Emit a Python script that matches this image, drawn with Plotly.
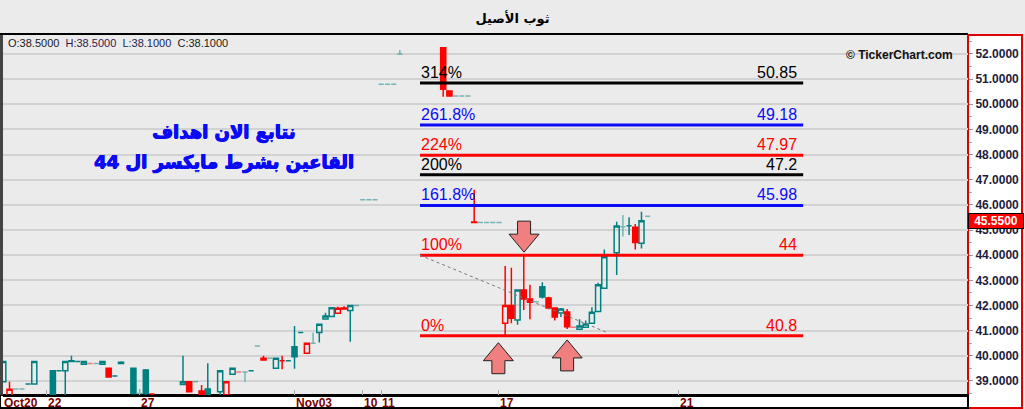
import plotly.graph_objects as go

# ---------------- data ----------------
title_text = "ثوب الأصيل"
ohlc_info = ["38.5000", "38.5000", "38.1000", "38.1000"]
last_price = 45.55

# one entry per time slot (None = no candle shown in that slot)
opens = [38.97, 38.40, 38.68, 38.68, 38.88, 38.88, None, None, 39.40, 39.40,
         39.40, 39.80, 39.77, 39.66, 39.69, 39.69, 39.66, 39.50, 39.20, 39.74,
         None, 39.50, 38.50, 39.43, 38.48, None, None, None, None, 38.86,
         38.97, 38.97, 38.60, 38.68, None, 38.57, 38.44, 39.27, 39.35, 39.35,
         39.40, 40.39, 39.90, 39.90, 39.50, 39.80, 39.80, 40.36, 40.93, 40.10,
         40.50, 40.93, 41.46, 41.56, 41.69, 41.90, 41.80, 42.00, 46.20, 46.20,
         46.20, 50.80, 50.80, 50.80, 52.00, None, None, None, None, None,
         None, 52.25, 50.53, 50.33, 50.33, 50.33, 45.32, 45.30, 45.30, 45.30,
         45.30, 41.29, 42.00, 41.42, 42.62, 42.26, 42.15, 42.74, 42.30, 41.90,
         41.70, 41.74, 41.13, 41.05, 41.13, 41.29, 41.76, 42.68, None, 44.10,
         45.13, 45.17, 45.11, 44.47, 45.55]
highs = [39.80, 38.97, 38.68, 38.68, 38.88, 39.77, None, None, 39.40, 39.40,
         39.77, 40.00, 39.77, 39.77, 39.69, 39.69, 39.77, 39.52, 39.20, 39.78,
         None, 39.50, 38.68, 39.47, 38.48, None, None, None, None, 40.00,
         38.97, 38.97, 38.84, 39.70, None, 39.40, 38.97, 39.50, 39.35, 39.35,
         39.40, 40.39, 40.00, 39.90, 39.90, 40.00, 39.80, 41.18, 40.93, 40.50,
         40.93, 41.25, 41.71, 41.91, 41.95, 41.97, 42.00, 42.00, 46.20, 46.20,
         46.20, 50.80, 50.80, 50.80, 52.16, None, None, None, None, None,
         None, 52.25, 50.53, 50.33, 50.33, 50.33, 46.60, 45.30, 45.30, 45.30,
         45.30, 43.57, 43.50, 42.62, 44.00, 42.82, 42.15, 42.92, 42.35, 41.92,
         41.90, 41.86, 41.13, 41.45, 41.40, 41.93, 42.90, 44.23, None, 45.33,
         45.60, 45.51, 45.24, 45.73, 45.55]
lows = [38.97, 38.40, 38.68, 38.68, 38.88, 38.88, None, None, 38.30, 39.40,
        38.30, 39.77, 39.77, 39.66, 39.69, 39.69, 39.66, 39.14, 39.20, 39.69,
        None, 38.50, 38.44, 38.45, 38.48, None, None, None, None, 38.86,
        38.57, 38.97, 38.40, 38.40, None, 38.44, 38.44, 39.27, 39.35, 38.97,
        39.40, 40.39, 39.83, 39.90, 39.50, 39.46, 39.80, 39.48, 40.93, 40.10,
        40.50, 40.53, 41.46, 41.56, 41.69, 41.86, 40.56, 42.00, 46.20, 46.20,
        46.20, 50.80, 50.80, 50.80, 52.00, None, None, None, None, None,
        None, 50.30, 50.33, 50.33, 50.33, 50.33, 45.30, 45.30, 45.30, 45.30,
        45.30, 40.79, 41.29, 41.23, 41.82, 41.45, 42.15, 42.28, 41.85, 41.40,
        41.54, 41.06, 41.13, 41.05, 41.13, 41.29, 41.76, 42.68, None, 43.21,
        44.74, 44.80, 44.23, 44.27, 45.55]
closes = [39.77, 38.67, 38.68, 38.68, 38.88, 39.77, None, None, 38.30, 39.40,
          39.77, 39.77, 39.77, 39.77, 39.69, 39.69, 39.77, 39.16, 39.20, 39.69,
          None, 38.50, 38.50, 38.50, 38.48, None, None, None, None, 38.97,
          38.57, 38.97, 38.40, 38.40, None, 39.40, 38.97, 39.50, 39.35, 39.35,
          39.40, 40.39, 39.83, 39.90, 39.90, 39.80, 39.80, 39.96, 40.93, 40.50,
          40.50, 41.25, 41.58, 41.91, 41.89, 41.86, 42.00, 42.00, 46.20, 46.20,
          46.20, 50.80, 50.80, 50.80, 52.00, None, None, None, None, None,
          None, 50.60, 50.33, 50.33, 50.33, 50.33, 45.30, 45.30, 45.30, 45.30,
          45.30, 42.00, 41.49, 42.62, 42.26, 42.13, 42.15, 42.34, 41.90, 41.54,
          41.86, 41.15, 41.13, 41.18, 41.26, 41.73, 42.82, 43.94, None, 45.16,
          45.13, 45.17, 44.50, 45.37, 45.55]
# move versus previous close
direction = ["up", "down", "up", "up", "up", "up", None, None, "up", "up",
             "up", "up", "up", "up", "down", "up", "up", "down", "up", "up",
             None, "up", "up", "up", "down", None, None, None, None, "up",
             "down", "up", "down", "up", None, "up", "down", "up", "down", "up",
             "up", "up", "down", "up", "up", "down", "up", "up", "up", "down",
             "up", "up", "up", "up", "down", "down", "up", "up", "up", "up",
             "up", "up", "up", "up", "up", None, None, None, None, None,
             None, "down", "down", "up", "up", "up", "down", "up", "up", "up",
             "up", "down", "down", "up", "down", "down", "up", "up", "down", "down",
             "up", "down", "down", "up", "up", "up", "up", "up", None, "up",
             "up", "up", "down", "up", "up"]
# thin-volume candles (drawn faded)
thin_volume = [0, 0, 1, 1, 0, 0, 0, 0, 0, 0,
               0, 0, 0, 0, 1, 1, 0, 0, 0, 0,
               0, 0, 1, 0, 0, 0, 0, 0, 0, 0,
               0, 1, 0, 0, 0, 0, 0, 0, 1, 1,
               0, 1, 0, 1, 0, 0, 0, 0, 0, 0,
               1, 0, 0, 0, 0, 0, 0, 1, 1, 1,
               1, 1, 1, 1, 1, 0, 0, 0, 0, 0,
               0, 0, 0, 1, 1, 1, 0, 1, 1, 1,
               1, 0, 0, 0, 0, 0, 1, 0, 0, 0,
               0, 0, 1, 0, 0, 0, 0, 0, 0, 0,
               1, 0, 0, 0, 1]

tick_slots = [0, 7, 22, 47, 58, 61, 80, 109]
tick_labels = ["Oct20", "22", "27", "Nov03", "10", "11", "17", "21"]

fib_levels = ["0%", "100%", "161.8%", "200%", "224%", "261.8%", "314%"]
fib_prices = [40.8, 44.0, 45.98, 47.2, 47.97, 49.18, 50.85]
fib_price_labels = ["40.8", "44", "45.98", "47.2", "47.97", "49.18", "50.85"]
fib_from_slot, fib_to_slot = 67.25, 129.1

trend_slots = [67.25, 97.6]
trend_prices = [44.0, 40.91]

arrow_down_tips = [(84.05, 44.12)]
arrow_up_tips = [(79.9, 40.52), (91.0, 40.63)]

note_lines = ["نتابع الان اهداف", "القاعين بشرط مايكسر ال 44"]

# ---------------- style / layout constants ----------------
W, H = 1025, 409
ML, MR, MT, MB = 3, 57, 35, 14
PW, PH = W - ML - MR, H - MT - MB
X_RANGE = [-0.05, 155.7]
Y_RANGE = [38.44, 52.755]
SX = (X_RANGE[1] - X_RANGE[0]) / PW   # slots per px
SY = (Y_RANGE[1] - Y_RANGE[0]) / PH   # price per px

TEAL = "#008080"
TEAL_LIGHT = "rgba(0,128,128,0.5)"
RED = "#ff0000"
RED_LIGHT = "rgba(255,0,0,0.5)"
BLUE = "#0a0af5"
fib_colors = [RED, RED, BLUE, "#000000", RED, BLUE, "#000000"]
TXT_FONT = "Liberation Sans"


def px_x(x):
    return (x - ML) / PW


def px_y(y):
    return 1 - (y - MT) / PH


fig = go.Figure()

# Fibonacci lines
for lvl, price, col in zip(fib_levels, fib_prices, fib_colors):
    fig.add_trace(go.Scatter(x=[fib_from_slot, fib_to_slot], y=[price, price], mode="lines",
                             line=dict(color=col, width=3), hoverinfo="skip"))

# trend line
fig.add_trace(go.Scatter(x=trend_slots, y=trend_prices, mode="lines",
                         line=dict(color="#777777", width=1, dash="dot"), hoverinfo="skip"))

# candles
groups = [("up", 0, TEAL), ("down", 0, RED), ("up", 1, TEAL_LIGHT), ("down", 1, RED_LIGHT)]
for d, f, col in groups:
    idx = [i for i in range(len(opens)) if opens[i] is not None and direction[i] == d and thin_volume[i] == f]
    fig.add_trace(go.Candlestick(
        x=idx,
        open=[opens[i] for i in idx], high=[highs[i] for i in idx],
        low=[lows[i] for i in idx], close=[closes[i] for i in idx],
        increasing=dict(line=dict(color=col, width=1.5), fillcolor="rgba(0,0,0,0)"),
        decreasing=dict(line=dict(color=col, width=1.5), fillcolor=col),
        whiskerwidth=0, hoverinfo="skip", showlegend=False))

# block arrows
HALF_W, HALF_SHAFT, HEAD_H, SHAFT_H = 15, 6.5, 18, 13


def arrow(tx, ty, sign):
    hw, sw = HALF_W * SX, HALF_SHAFT * SX
    hh, sh = sign * HEAD_H * SY, sign * SHAFT_H * SY
    xs = [tx, tx - hw, tx - sw, tx - sw, tx + sw, tx + sw, tx + hw, tx]
    ys = [ty, ty + hh, ty + hh, ty + hh + sh, ty + hh + sh, ty + hh, ty + hh, ty]
    return xs, ys


for tx, ty in arrow_down_tips:
    xs, ys = arrow(tx, ty, 1)
    fig.add_trace(go.Scatter(x=xs, y=ys, mode="lines", fill="toself", fillcolor="#f08080",
                             line=dict(color="#222222", width=1), hoverinfo="skip"))
for tx, ty in arrow_up_tips:
    xs, ys = arrow(tx, ty, -1)
    fig.add_trace(go.Scatter(x=xs, y=ys, mode="lines", fill="toself", fillcolor="#f08080",
                             line=dict(color="#222222", width=1), hoverinfo="skip"))

annotations = []
# fib labels
for lvl, price, lab, col in zip(fib_levels, fib_prices, fib_price_labels, fib_colors):
    annotations.append(dict(x=fib_from_slot, y=price, xref="x", yref="y", text=lvl,
                            xanchor="left", yanchor="bottom", showarrow=False, xshift=-1, yshift=0,
                            font=dict(family=TXT_FONT, size=16, color=col)))
    annotations.append(dict(x=fib_to_slot, y=price, xref="x", yref="y", text=lab,
                            xanchor="right", yanchor="bottom", showarrow=False, xshift=-4, yshift=0,
                            font=dict(family=TXT_FONT, size=16, color=col)))

# x labels
for s, lab in zip(tick_slots, tick_labels):
    annotations.append(dict(x=s, y=px_y(402.5), xref="x", yref="paper", text=lab, xanchor="left",
                            yanchor="middle", showarrow=False, borderpad=0,
                            font=dict(family=TXT_FONT, size=12, color="#7a0000", weight="bold")))

# Arabic note
for line, yp in zip(note_lines, [132, 162]):
    annotations.append(dict(x=px_x(224), y=px_y(yp), xref="paper", yref="paper", text=line,
                            xanchor="center", yanchor="middle", showarrow=False,
                            font=dict(family="DejaVu Sans", size=18, color=BLUE, weight="bold",
                                      shadow="0.7px 0 0 %s, -0.3px 0 0 %s, 0 0.5px 0 %s" % (BLUE, BLUE, BLUE))))

# OHLC info
annotations.append(dict(
    x=px_x(6), y=px_y(43), xref="paper", yref="paper", xanchor="left", yanchor="middle", showarrow=False,
    text=("<span style='color:#1a1a1a'>O:%s</span>\u00a0\u00a0<span style='color:#3c1450'>H:%s</span>"
          "\u00a0\u00a0<span style='color:#1a2850'>L:%s</span>\u00a0\u00a0<span style='color:#1a1a1a'>C:%s</span>")
         % tuple(ohlc_info),
    font=dict(family=TXT_FONT, size=11)))

# watermark
annotations.append(dict(x=px_x(955), y=px_y(55), xref="paper", yref="paper", xanchor="right",
                        yanchor="middle", showarrow=False, text="© TickerChart.com",
                        font=dict(family=TXT_FONT, size=12, color="#111111", weight="bold")))

# last price tag
annotations.append(dict(x=1, y=last_price, xref="paper", yref="y", xanchor="left", yanchor="middle",
                        yshift=-5, showarrow=False, text="%.4f" % last_price, bgcolor="#ff0000",
                        bordercolor="#000000", borderwidth=1, borderpad=0, width=54,
                        font=dict(family=TXT_FONT, size=12, color="white", weight="bold")))

shapes = [
    # right axis panel
    dict(type="rect", xref="paper", yref="paper", x0=1, x1=1 + 54 / PW, y0=-13 / PH, y1=1,
         fillcolor="white", line=dict(color="#e00000", width=2), layer="below"),
    # bottom label strip
    dict(type="rect", xref="paper", yref="paper", x0=-ML / PW, x1=1, y0=-13 / PH, y1=0,
         fillcolor="white", line=dict(color="black", width=2), layer="below"),
    # title separator
    dict(type="line", xref="paper", yref="paper", x0=-ML / PW, x1=1, y0=1 + 1 / PH, y1=1 + 1 / PH,
         line=dict(color="black", width=2)),
    # left border
    dict(type="line", xref="paper", yref="paper", x0=-1.5 / PW, x1=-1.5 / PW, y0=0, y1=1,
         line=dict(color="#444444", width=3)),
]

fig.update_layout(
    width=W, height=H,
    margin=dict(l=ML, r=MR, t=MT, b=MB, pad=0),
    paper_bgcolor="#ebebeb", plot_bgcolor="#ebebeb",
    showlegend=False,
    boxgap=0.18, boxgroupgap=0,
    title=dict(text="<b>%s</b>" % title_text, x=0.5, xref="container", xanchor="center",
               y=1 - 18 / H, yref="container", yanchor="middle",
               font=dict(family="DejaVu Sans", size=13, color="black")),
    xaxis=dict(range=X_RANGE, showgrid=False, zeroline=False, showline=True, linecolor="black",
               linewidth=2, ticks="inside", tickvals=tick_slots, ticklen=5, tickcolor="#aaaaaa",
               showticklabels=False, rangeslider=dict(visible=False), fixedrange=True),
    yaxis=dict(side="right", range=Y_RANGE, tick0=0, dtick=1, tickformat=".4f", showgrid=True,
               gridcolor="#d2d2d2", gridwidth=2, zeroline=False, ticks="outside", ticklen=4,
               tickcolor="#999999", showline=False,
               tickfont=dict(family=TXT_FONT, size=12, color="#1c1c3c", weight="bold"),
               minor=dict(dtick=0.5, ticks="outside", ticklen=3, tickcolor="#aaaaaa", showgrid=False),
               fixedrange=True),
    annotations=annotations,
    shapes=shapes,
)

fig.write_html("out.html", config={"displayModeBar": False},
               post_script="document.body.style.margin='0';document.body.style.padding='0';"
                           "document.body.style.overflow='hidden';")
